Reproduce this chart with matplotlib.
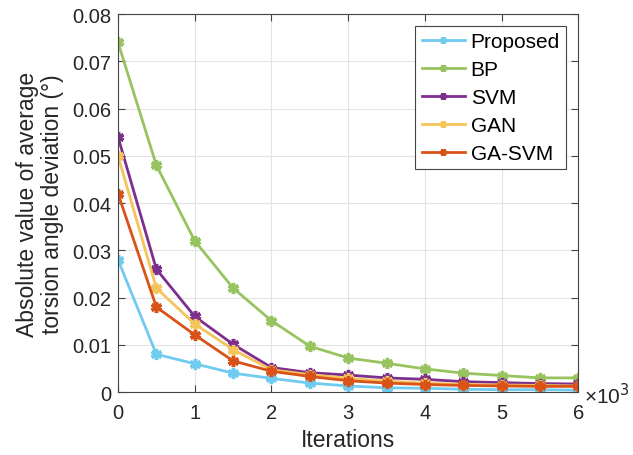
import matplotlib.pyplot as plt
import numpy as np

plt.rcParams['font.family'] = ['Liberation Sans', 'DejaVu Sans']

iterations = np.arange(0, 6001, 500)
proposed = [0.028, 0.008, 0.006, 0.004, 0.0029, 0.0019, 0.0013, 0.0009, 0.0008, 0.0006, 0.0005, 0.0005, 0.0004]
bp = [0.074, 0.048, 0.032, 0.022, 0.0151, 0.0097, 0.0072, 0.0061, 0.0049, 0.0040, 0.0035, 0.0030, 0.0030]
svm = [0.054, 0.026, 0.016, 0.0101, 0.0052, 0.0041, 0.0036, 0.0030, 0.0027, 0.0022, 0.0020, 0.0018, 0.0017]
gan = [0.050, 0.022, 0.0144, 0.0090, 0.0047, 0.0037, 0.0029, 0.0023, 0.0019, 0.0016, 0.0015, 0.0014, 0.0013]
ga_svm = [0.042, 0.018, 0.0121, 0.0066, 0.0044, 0.0033, 0.0024, 0.0019, 0.0016, 0.0014, 0.0013, 0.0012, 0.0012]

names = ['Proposed', 'BP', 'SVM', 'GAN', 'GA-SVM']
series = [proposed, bp, svm, gan, ga_svm]
colors = ['#6FCBF0', '#98C460', '#7E2F8E', '#F5C45A', '#D95319']

fig = plt.figure(figsize=(6.33, 4.56), dpi=100)
ax = fig.add_axes([0.1864, 0.138, 0.7275, 0.829])

x = iterations / 1000
for name, y, c in zip(names, series, colors):
    ax.plot(x, y, color=c, lw=2, marker=(6, 2, 0), ms=8, mew=2.5, label=name)

ax.set_xlim(0, 6)
ax.set_ylim(0, 0.08)
ax.set_xticks(np.arange(0, 7))
ax.set_yticks(np.arange(0, 0.081, 0.01))
ax.set_yticklabels(['0', '0.01', '0.02', '0.03', '0.04', '0.05', '0.06', '0.07', '0.08'])
ax.tick_params(direction='in', labelsize=14.5, top=True, right=True, length=5,
               color='#444444', labelcolor='#262626')
ax.tick_params(axis='x', pad=8)
ax.tick_params(axis='y', pad=5)
ax.grid(True, color='#e3e3e3', lw=0.8)
for s in ax.spines.values():
    s.set_color('#444444')
    s.set_linewidth(0.8)

ax.set_xlabel('Iterations', fontsize=16.5, color='#262626', labelpad=4)
ax.set_ylabel('Absolute value of average\ntorsion angle deviation (°)', fontsize=16.5,
              color='#262626', labelpad=6, linespacing=1.1)
ax.text(1.013, -0.008, '×10$^{3}$', transform=ax.transAxes, fontsize=15,
        ha='left', va='center', color='#262626')

leg = ax.legend(loc='upper right', fontsize=15, fancybox=False, framealpha=1,
                edgecolor='#444444', handlelength=2.1, borderpad=0.3,
                labelspacing=0.43, handletextpad=0.25, markerscale=0.6,
                bbox_to_anchor=(0.973, 0.968), borderaxespad=0)
leg.get_frame().set_linewidth(0.8)
for t in leg.get_texts():
    t.set_color('black')

fig.savefig('out.png', dpi=100)
